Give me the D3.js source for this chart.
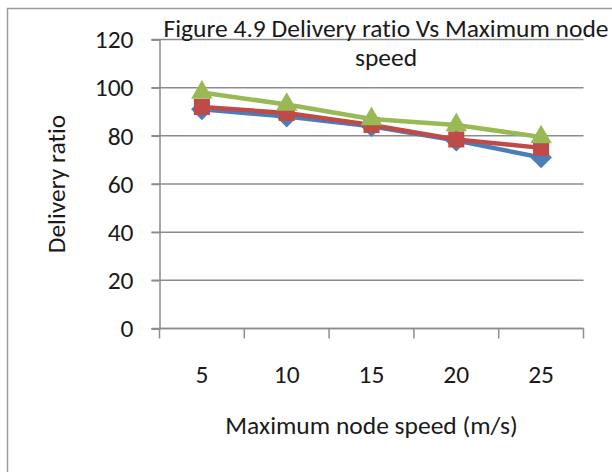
<!DOCTYPE html>
<html>
<head>
<meta charset="UTF-8">
<script src="https://cdnjs.cloudflare.com/ajax/libs/d3/7.8.5/d3.min.js"></script>
<style>
  body { margin: 0; background: #fff; }
  svg text { font-family: Carlito, 'Open Sans', sans-serif; fill: #1a1a1a; font-variant-ligatures: none; }
</style>
</head>
<body>
<div id="chart"></div>
<script>
// data
const speeds = ["5", "10", "15", "20", "25"];
const seriesA = [91, 88, 84, 78, 71];       // blue, diamonds
const seriesB = [92, 89.5, 84.5, 78.5, 75]; // red, squares
const seriesC = [98, 93, 87, 84.5, 79.5];   // green, triangles
const yTicks = [0, 20, 40, 60, 80, 100, 120];

const W = 612, H = 472;
const plotL = 159.5, plotR = 583.5, plotT = 39.5, plotB = 328.5;
const fs = 25.5;

const svg = d3.select("#chart").append("svg")
  .attr("width", W).attr("height", H);

// outer chart frame (only left and top edges visible)
svg.append("path")
  .attr("d", `M7.5,${H} V8.5 H${W}`)
  .attr("fill", "none").attr("stroke", "#9a9a9a").attr("stroke-width", 1.5);

const x = d3.scaleBand().domain(speeds).range([plotL, plotR]);
const y = d3.scaleLinear().domain([0, 120]).range([plotB, plotT]);

// gridlines
svg.append("g").selectAll("line")
  .data(yTicks).enter().append("line")
  .attr("x1", plotL - 8).attr("x2", plotR)
  .attr("y1", d => y(d)).attr("y2", d => y(d))
  .attr("stroke", "#8c8c8c").attr("stroke-width", 1.5);

// y axis
const yAxis = svg.append("g")
  .attr("transform", `translate(${plotL},0)`)
  .call(d3.axisLeft(y).tickValues(yTicks).tickSize(8).tickPadding(18));
yAxis.select(".domain").attr("stroke", "#8c8c8c").attr("stroke-width", 1.5);
yAxis.selectAll(".tick line").attr("stroke", "#8c8c8c").attr("stroke-width", 1.5);
yAxis.selectAll("text").attr("font-size", fs).attr("font-family", null);

// x axis line + boundary ticks
svg.append("line")
  .attr("x1", plotL).attr("x2", plotR).attr("y1", plotB).attr("y2", plotB)
  .attr("stroke", "#8c8c8c").attr("stroke-width", 1.5);
const bounds = speeds.map(s => x(s)).concat([x(speeds[speeds.length - 1]) + x.bandwidth()]);
svg.append("g").selectAll("line")
  .data(bounds).enter().append("line")
  .attr("x1", d => d).attr("x2", d => d)
  .attr("y1", plotB).attr("y2", plotB + 10)
  .attr("stroke", "#8c8c8c").attr("stroke-width", 1.5);

svg.append("g").selectAll("text")
  .data(speeds).enter().append("text")
  .attr("x", d => x(d) + x.bandwidth() / 2)
  .attr("y", 383)
  .attr("text-anchor", "middle")
  .attr("font-size", fs)
  .text(d => d);

// axis titles
svg.append("text")
  .attr("x", (plotL + plotR) / 2).attr("y", 434)
  .attr("text-anchor", "middle").attr("font-size", fs)
  .text("Maximum node speed (m/s)");

svg.append("text")
  .attr("transform", `translate(65,${(plotT + plotB) / 2}) rotate(-90)`)
  .attr("text-anchor", "middle").attr("font-size", fs)
  .text("Delivery ratio");

// chart title
svg.append("text")
  .attr("x", 386).attr("y", 37)
  .attr("text-anchor", "middle").attr("font-size", fs)
  .text("Figure 4.9 Delivery ratio Vs Maximum node");
svg.append("text")
  .attr("x", 386).attr("y", 66)
  .attr("text-anchor", "middle").attr("font-size", fs)
  .text("speed");

// series
const series = [
  { values: seriesA, color: "#4a7ebb", symbol: d3.symbolDiamond2, size: 300 },
  { values: seriesB, color: "#be4b48", symbol: d3.symbolSquare2, size: 330 },
  { values: seriesC, color: "#98b954", symbol: d3.symbolTriangle2, size: 330 }
];

const line = d3.line()
  .x((d, i) => x(speeds[i]) + x.bandwidth() / 2)
  .y(d => y(d));

series.forEach(s => {
  const g = svg.append("g");
  g.append("path")
    .attr("d", line(s.values))
    .attr("fill", "none")
    .attr("stroke", s.color)
    .attr("stroke-width", 4.5)
    .attr("stroke-linejoin", "round");
  g.selectAll("path.m")
    .data(s.values).enter().append("path")
    .attr("class", "m")
    .attr("transform", (d, i) => `translate(${x(speeds[i]) + x.bandwidth() / 2},${y(d)})`)
    .attr("d", d3.symbol().type(s.symbol).size(s.size)())
    .attr("fill", s.color);
});
</script>
</body>
</html>
